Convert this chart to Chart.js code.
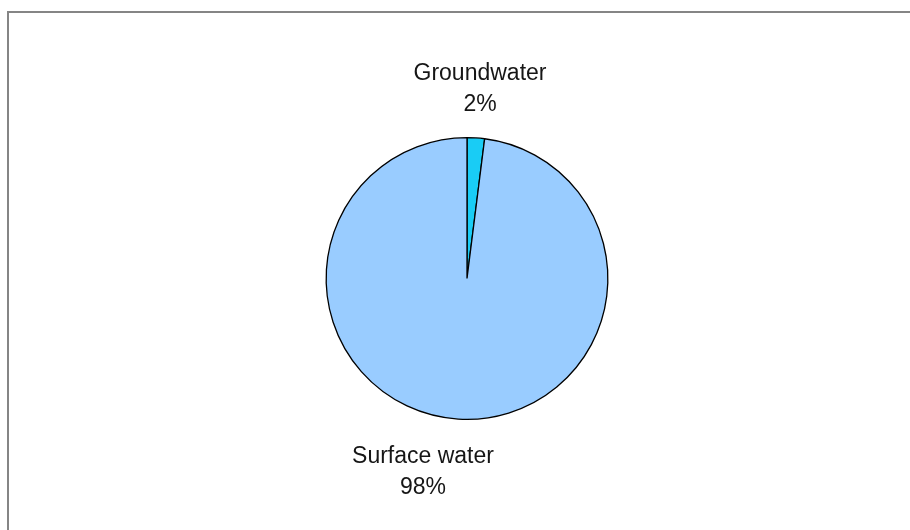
<!DOCTYPE html>
<html>
<head>
<meta charset="utf-8">
<script src="https://cdn.jsdelivr.net/npm/chart.js@4.4.0/dist/chart.umd.min.js"></script>
<style>
  html, body { margin: 0; padding: 0; background: #fff; }
  #wrap { position: relative; width: 910px; height: 530px; overflow: hidden; }
  #frame {
    position: absolute; left: 7px; top: 11px; width: 920px; height: 540px;
    border-top: 2px solid #858585; border-left: 2px solid #858585;
    box-sizing: border-box;
  }
  #chart { position: absolute; left: 0; top: 0; }
</style>
</head>
<body>
<div id="wrap">
  <div id="frame"></div>
  <canvas id="chart" width="910" height="530"></canvas>
</div>
<script>
// Sources of water supply
const categories = ['Groundwater', 'Surface water'];
const shares = [2, 98];
const sliceColors = ['#19CCF5', '#99CCFF'];

// Category name and percentage written outside the pie; anchors are first-line baselines
const outsideLabels = {
  id: 'outsideLabels',
  afterDatasetsDraw(chart) {
    const ctx = chart.ctx;
    const meta = chart.getDatasetMeta(0);
    const arc = meta.data[0];
    const cx = arc.x, cy = arc.y, r = arc.outerRadius;
    const total = shares.reduce((a, b) => a + b, 0);
    const anchors = [
      { x: cx + 13, y: cy - r - 58 },   // above the top of the pie
      { x: cx - 44, y: cy + r + 44 }    // below the bottom-left of the pie
    ];
    const lineGap = 31;
    ctx.save();
    ctx.fillStyle = '#161616';
    ctx.font = '23px "Liberation Sans", Arial, sans-serif';
    ctx.textAlign = 'center';
    ctx.textBaseline = 'alphabetic';
    categories.forEach((name, i) => {
      const pct = Math.round(shares[i] / total * 100) + '%';
      const a = anchors[i];
      ctx.fillText(name, a.x, a.y);
      ctx.fillText(pct, a.x, a.y + lineGap);
    });
    ctx.restore();
  }
};

new Chart(document.getElementById('chart'), {
  type: 'pie',
  data: {
    labels: categories,
    datasets: [{
      data: shares,
      backgroundColor: sliceColors,
      borderColor: '#000',
      borderWidth: 1.3
    }]
  },
  options: {
    responsive: false,
    animation: false,
    devicePixelRatio: 1,
    layout: { padding: { left: 325, right: 301, top: 137, bottom: 110 } },
    plugins: {
      legend: { display: false },
      tooltip: { enabled: false }
    }
  },
  plugins: [outsideLabels]
});
</script>
</body>
</html>
